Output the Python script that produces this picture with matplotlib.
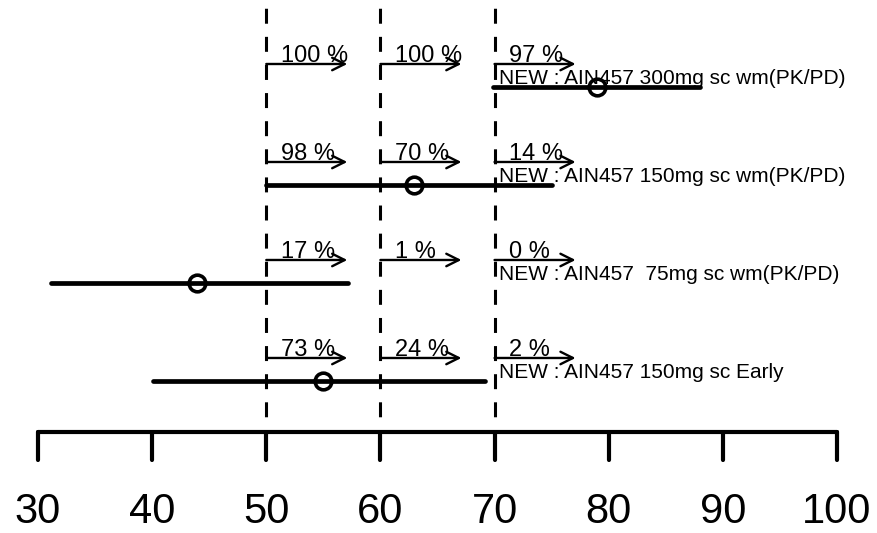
import numpy as np
import matplotlib.pyplot as plt

plt.rcParams['font.family'] = ['Liberation Sans', 'DejaVu Sans']

# Daten (von oben nach unten)
labels = ['NEW : AIN457 300mg sc wm(PK/PD)',
          'NEW : AIN457 150mg sc wm(PK/PD)',
          'NEW : AIN457  75mg sc wm(PK/PD)',
          'NEW : AIN457 150mg sc Early']
punkt = [79.0, 62.9, 43.9, 55.0]
unten = [69.9, 50.0, 31.1, 40.1]
oben = [88.0, 75.0, 57.2, 69.2]
schwellen = [50, 60, 70]
prozente = [[100, 100, 97],
            [98, 70, 14],
            [17, 1, 0],
            [73, 24, 2]]
ticks = [30, 40, 50, 60, 70, 80, 90, 100]

fig = plt.figure(figsize=(8.77, 5.33), dpi=100)
ax = fig.add_axes([0, 0, 1, 1])
ax.set_xlim(26.67, 103.51)
ax.set_ylim(-1.551, 3.888)
ax.axis('off')

n = len(labels)
ys = np.arange(n)[::-1]  # obere Zeile zuerst

achse_y = -0.52

# gestrichelte Schwellen (von oben nach unten gezeichnet)
for s in schwellen:
    ax.plot([s, s], [3.888, achse_y], color='black', lw=2.2,
            linestyle=(6.5, (4.9, 4.3)), zorder=1)

pfeil_len = 7.1
for y, lab, p, lo, hi, pct in zip(ys, labels, punkt, unten, oben, prozente):
    ax.plot([lo, hi], [y, y], color='black', lw=3.4, solid_capstyle='round', zorder=2)
    ax.plot(p, y, 'o', ms=12, mfc='none', mec='black', mew=2.6, zorder=3)
    ya = y + 0.235
    for s, v in zip(schwellen, pct):
        ax.annotate('', xy=(s + pfeil_len, ya), xytext=(s, ya),
                    arrowprops=dict(arrowstyle='->,head_length=0.6,head_width=0.3',
                                    lw=1.7, color='black', mutation_scale=15,
                                    shrinkA=0, shrinkB=0))
        ax.text(s + 1.3, ya + 0.02, f'{v} %', fontsize=17, ha='left', va='baseline')
    ax.text(70.4, y + 0.085, lab, fontsize=15, ha='left', va='center')

# x-Achse selbst gezeichnet
ax.plot([ticks[0], ticks[-1]], [achse_y, achse_y], color='black', lw=3,
        solid_capstyle='round')
for t in ticks:
    ax.plot([t, t], [achse_y, -0.806], color='black', lw=3, solid_capstyle='round')
    ax.text(t, -1.45, str(t), fontsize=30, ha='center', va='baseline')

fig.savefig('out.png', dpi=100)
